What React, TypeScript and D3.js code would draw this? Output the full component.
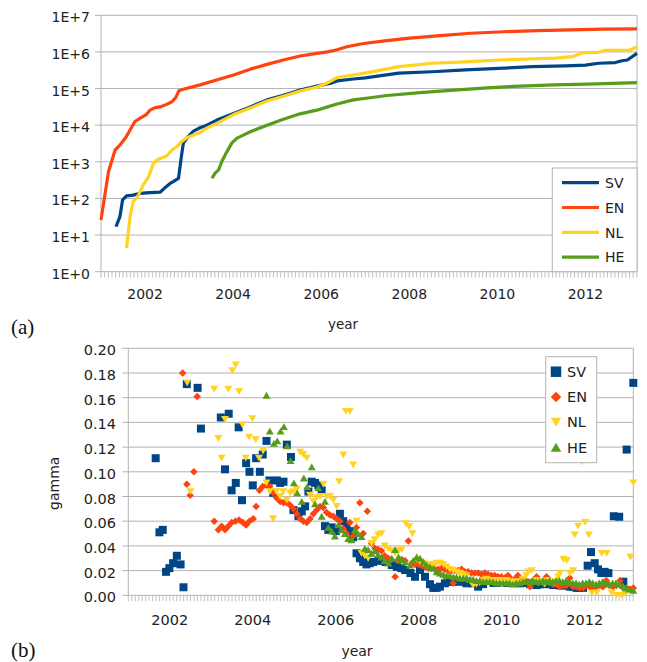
import React from "react";
import * as d3 from "d3";

// ---------- Panel (a): cumulative counts (log scale) ----------
const growthSV: [number, number][] = [
  [2001.34, 17], [2001.43, 32], [2001.49, 91], [2001.58, 117], [2001.73, 123], [2001.89, 138],
  [2002.11, 145], [2002.34, 148], [2002.45, 195], [2002.57, 257], [2002.64, 288], [2002.76, 355],
  [2002.83, 1550], [2002.87, 3240], [2002.98, 4900], [2003.1, 6900], [2003.25, 8500], [2003.4, 10000],
  [2003.63, 13800], [2004.01, 20900], [2004.39, 31600], [2004.77, 49000], [2005.14, 66000],
  [2005.52, 91000], [2005.9, 117000], [2006.2, 138000], [2006.36, 162000], [2006.73, 182000],
  [2007.0, 195000], [2007.76, 263000], [2008.52, 288000], [2009.27, 324000], [2010.03, 355000],
  [2010.79, 398000], [2011.55, 417000], [2012.0, 437000], [2012.3, 490000], [2012.68, 513000],
  [2012.83, 575000], [2012.95, 603000], [2013.17, 912000],
];
const growthEN: [number, number][] = [
  [2001.0, 26], [2001.17, 537], [2001.32, 2090], [2001.43, 2880], [2001.55, 4370], [2001.66, 7400],
  [2001.77, 12600], [2001.89, 15500], [2002.02, 19000], [2002.11, 25700], [2002.23, 30200],
  [2002.34, 31600], [2002.49, 37000], [2002.61, 43600], [2002.7, 57500], [2002.77, 87000],
  [2002.87, 95500], [2003.25, 126000], [2003.7, 182000], [2004.01, 234000], [2004.39, 339000],
  [2004.77, 457000], [2005.14, 603000], [2005.52, 776000], [2005.9, 912000], [2006.14, 1000000],
  [2006.36, 1150000], [2006.58, 1380000], [2006.96, 1700000], [2007.49, 2040000], [2007.95, 2340000],
  [2008.63, 2750000], [2009.39, 3240000], [2010.14, 3550000], [2010.9, 3800000], [2011.66, 3980000],
  [2012.41, 4170000], [2013.17, 4270000],
];
const growthNL: [number, number][] = [
  [2001.58, 4.4], [2001.66, 32], [2001.73, 81], [2001.85, 123], [2001.96, 234], [2002.08, 389],
  [2002.19, 912], [2002.3, 1175], [2002.49, 1445], [2002.61, 2090], [2002.72, 2570], [2002.83, 3550],
  [2002.95, 4570], [2003.1, 5370], [2003.25, 6300], [2003.4, 8300], [2003.63, 11200], [2004.01, 19500],
  [2004.39, 29500], [2004.77, 45500], [2005.14, 61500], [2005.52, 85000], [2005.9, 110000],
  [2006.13, 140000], [2006.36, 200000], [2006.73, 234000], [2007.0, 263000], [2007.76, 398000],
  [2008.52, 490000], [2009.27, 537000], [2010.03, 603000], [2010.79, 646000], [2011.32, 676000],
  [2011.7, 741000], [2011.93, 955000], [2012.3, 977000], [2012.45, 1100000], [2012.98, 1100000],
  [2013.17, 1380000],
];
const growthHE: [number, number][] = [
  [2003.52, 355], [2003.59, 490], [2003.67, 603], [2003.74, 1000], [2003.86, 1900], [2003.97, 3240],
  [2004.08, 4370], [2004.23, 5370], [2004.39, 6600], [2004.77, 10000], [2005.14, 14500],
  [2005.52, 20400], [2005.9, 25700], [2006.2, 33100], [2006.36, 38000], [2006.73, 49000],
  [2007.11, 56200], [2007.49, 64600], [2008.25, 77600], [2009.01, 91000], [2009.77, 105000],
  [2010.52, 117000], [2011.28, 126000], [2012.04, 132000], [2013.17, 145000],
];
const topTickValues = [1, 10, 100, 1e3, 1e4, 1e5, 1e6, 1e7];
const topTickLabels = ["1E+0", "1E+1", "1E+2", "1E+3", "1E+4", "1E+5", "1E+6", "1E+7"];

// ---------- Panel (b): gamma ----------
const gammaSV: [number, number][] = [
  [2001.66, 0.111], [2001.75, 0.051], [2001.83, 0.053], [2001.91, 0.019], [2001.99, 0.022],
  [2002.08, 0.026], [2002.17, 0.032], [2002.26, 0.025], [2002.33, 0.0065], [2002.41, 0.171],
  [2002.67, 0.168], [2002.75, 0.135], [2003.23, 0.144], [2003.33, 0.102], [2003.42, 0.147],
  [2003.49, 0.085], [2003.59, 0.091], [2003.66, 0.136], [2003.74, 0.077], [2003.84, 0.107],
  [2003.92, 0.1], [2004.0, 0.089], [2004.08, 0.111], [2004.17, 0.1], [2004.24, 0.114],
  [2004.33, 0.125], [2004.4, 0.093], [2004.49, 0.083], [2004.58, 0.093], [2004.66, 0.091],
  [2004.74, 0.092], [2004.82, 0.122], [2004.92, 0.112], [2004.98, 0.069], [2005.1, 0.064],
  [2005.18, 0.068], [2005.26, 0.072], [2005.34, 0.084], [2005.42, 0.092], [2005.5, 0.091],
  [2005.58, 0.089], [2005.66, 0.085], [2005.74, 0.056], [2005.82, 0.053], [2005.9, 0.055],
  [2006.0, 0.052], [2006.1, 0.066], [2006.18, 0.06], [2006.26, 0.057], [2006.34, 0.052],
  [2006.42, 0.047], [2006.5, 0.034], [2006.58, 0.03], [2006.66, 0.027], [2006.74, 0.025],
  [2006.82, 0.026], [2006.9, 0.027], [2007.02, 0.028], [2007.1, 0.028], [2007.2, 0.027],
  [2007.35, 0.0245], [2007.47, 0.023], [2007.58, 0.022], [2007.67, 0.0205], [2007.8, 0.018],
  [2007.91, 0.015], [2008.03, 0.0205], [2008.15, 0.015], [2008.27, 0.009], [2008.35, 0.006],
  [2008.43, 0.006], [2008.51, 0.007], [2008.63, 0.0097], [2008.75, 0.011], [2008.83, 0.011],
  [2008.95, 0.011], [2009.07, 0.011], [2009.15, 0.0097], [2009.3, 0.0097], [2009.43, 0.007],
  [2009.55, 0.009], [2009.72, 0.0124], [2009.8, 0.01], [2009.88, 0.01], [2009.96, 0.011],
  [2010.04, 0.011], [2010.12, 0.01], [2010.2, 0.01], [2010.28, 0.011], [2010.36, 0.01],
  [2010.44, 0.0097], [2010.52, 0.01], [2010.6, 0.01], [2010.68, 0.009], [2010.76, 0.009],
  [2010.84, 0.0083], [2010.92, 0.009], [2011.0, 0.009], [2011.08, 0.01], [2011.16, 0.009],
  [2011.24, 0.0083], [2011.32, 0.009], [2011.4, 0.008], [2011.48, 0.008], [2011.56, 0.008],
  [2011.64, 0.007], [2011.72, 0.007], [2011.8, 0.006], [2011.88, 0.006], [2011.96, 0.006],
  [2012.07, 0.024], [2012.15, 0.035], [2012.24, 0.026], [2012.32, 0.021], [2012.4, 0.018],
  [2012.48, 0.019], [2012.57, 0.018], [2012.7, 0.064], [2012.83, 0.0636], [2012.93, 0.011],
  [2013.01, 0.118], [2013.17, 0.172],
];
const gammaEN: [number, number][] = [
  [2002.31, 0.18], [2002.41, 0.09], [2002.49, 0.081], [2002.58, 0.1], [2002.66, 0.161],
  [2003.07, 0.06], [2003.17, 0.053], [2003.25, 0.056], [2003.33, 0.053], [2003.41, 0.056],
  [2003.49, 0.059], [2003.58, 0.06], [2003.67, 0.061], [2003.76, 0.059], [2003.84, 0.057],
  [2003.92, 0.06], [2004.01, 0.062], [2004.08, 0.072], [2004.16, 0.085], [2004.24, 0.088],
  [2004.33, 0.089], [2004.41, 0.088], [2004.49, 0.083], [2004.57, 0.079], [2004.66, 0.076],
  [2004.74, 0.075], [2004.82, 0.075], [2004.9, 0.073], [2004.98, 0.07], [2005.06, 0.066],
  [2005.14, 0.062], [2005.22, 0.06], [2005.3, 0.059], [2005.38, 0.062], [2005.46, 0.066],
  [2005.54, 0.069], [2005.62, 0.072], [2005.7, 0.071], [2005.78, 0.067], [2005.86, 0.065],
  [2005.94, 0.064], [2006.02, 0.062], [2006.1, 0.06], [2006.18, 0.054], [2006.26, 0.05],
  [2006.34, 0.059], [2006.42, 0.048], [2006.5, 0.055], [2006.58, 0.075], [2006.66, 0.05],
  [2006.76, 0.068], [2006.86, 0.042], [2006.94, 0.038], [2007.02, 0.037], [2007.1, 0.036],
  [2007.18, 0.032], [2007.26, 0.03], [2007.34, 0.029], [2007.43, 0.015], [2007.51, 0.028],
  [2007.59, 0.029], [2007.67, 0.028], [2007.75, 0.044], [2007.83, 0.026], [2007.91, 0.025],
  [2007.99, 0.025], [2008.07, 0.024], [2008.15, 0.023], [2008.23, 0.022], [2008.31, 0.022],
  [2008.39, 0.021], [2008.47, 0.021], [2008.55, 0.022], [2008.63, 0.021], [2008.71, 0.02],
  [2008.79, 0.02], [2008.83, 0.0097], [2008.87, 0.02], [2008.95, 0.02], [2009.03, 0.021],
  [2009.11, 0.019], [2009.19, 0.019], [2009.27, 0.018], [2009.35, 0.018], [2009.43, 0.018],
  [2009.51, 0.017], [2009.59, 0.018], [2009.67, 0.017], [2009.75, 0.016], [2009.83, 0.016],
  [2009.91, 0.015], [2009.99, 0.015], [2010.07, 0.014], [2010.15, 0.016], [2010.23, 0.013],
  [2010.31, 0.013], [2010.39, 0.016], [2010.47, 0.012], [2010.55, 0.012], [2010.63, 0.011],
  [2010.68, 0.007], [2010.76, 0.012], [2010.84, 0.015], [2010.92, 0.011], [2011.0, 0.01],
  [2011.08, 0.015], [2011.16, 0.01], [2011.24, 0.009], [2011.32, 0.009], [2011.4, 0.007],
  [2011.48, 0.008], [2011.56, 0.008], [2011.64, 0.014], [2011.72, 0.007], [2011.8, 0.007],
  [2011.88, 0.006], [2011.96, 0.006], [2012.04, 0.008], [2012.12, 0.007], [2012.2, 0.006],
  [2012.28, 0.007], [2012.36, 0.008], [2012.44, 0.007], [2012.52, 0.012], [2012.6, 0.008],
  [2012.68, 0.007], [2012.76, 0.008], [2012.85, 0.012], [2012.93, 0.006], [2013.01, 0.006],
  [2013.09, 0.005], [2013.17, 0.006],
];
const gammaNL: [number, number][] = [
  [2002.42, 0.172], [2002.5, 0.084], [2003.07, 0.167], [2003.17, 0.127], [2003.25, 0.111],
  [2003.33, 0.1425], [2003.41, 0.167], [2003.51, 0.182], [2003.59, 0.1865], [2003.67, 0.165],
  [2003.75, 0.138], [2003.83, 0.111], [2003.91, 0.128], [2003.99, 0.143], [2004.07, 0.126],
  [2004.15, 0.111], [2004.25, 0.117], [2004.33, 0.091], [2004.41, 0.084], [2004.49, 0.062],
  [2004.57, 0.084], [2004.66, 0.08], [2004.73, 0.084], [2004.82, 0.077], [2004.9, 0.083],
  [2004.98, 0.084], [2005.06, 0.086], [2005.14, 0.116], [2005.22, 0.114], [2005.3, 0.111],
  [2005.38, 0.081], [2005.46, 0.076], [2005.54, 0.079], [2005.62, 0.08], [2005.7, 0.09],
  [2005.78, 0.08], [2005.86, 0.08], [2005.94, 0.077], [2006.02, 0.072], [2006.08, 0.092],
  [2006.18, 0.1136], [2006.24, 0.149], [2006.34, 0.149], [2006.42, 0.1055], [2006.5, 0.06],
  [2006.62, 0.034], [2006.7, 0.032], [2006.78, 0.03], [2006.86, 0.042], [2006.94, 0.045],
  [2007.02, 0.049], [2007.1, 0.05], [2007.18, 0.04], [2007.26, 0.038], [2007.34, 0.036],
  [2007.43, 0.034], [2007.51, 0.036], [2007.59, 0.037], [2007.69, 0.058], [2007.77, 0.0555],
  [2007.85, 0.05], [2007.93, 0.028], [2008.03, 0.027], [2008.11, 0.026], [2008.19, 0.025],
  [2008.27, 0.025], [2008.35, 0.024], [2008.43, 0.026], [2008.51, 0.026], [2008.59, 0.025],
  [2008.67, 0.023], [2008.75, 0.021], [2008.83, 0.02], [2008.91, 0.019], [2008.99, 0.018],
  [2009.07, 0.017], [2009.15, 0.016], [2009.23, 0.012], [2009.31, 0.008], [2009.39, 0.009],
  [2009.47, 0.01], [2009.55, 0.012], [2009.63, 0.013], [2009.71, 0.012], [2009.79, 0.012],
  [2009.87, 0.011], [2009.95, 0.012], [2010.03, 0.011], [2010.11, 0.012], [2010.19, 0.011],
  [2010.27, 0.01], [2010.35, 0.011], [2010.43, 0.01], [2010.51, 0.013], [2010.59, 0.016],
  [2010.64, 0.019], [2010.72, 0.02], [2010.8, 0.012], [2010.88, 0.01], [2010.96, 0.011],
  [2011.04, 0.009], [2011.12, 0.012], [2011.2, 0.011], [2011.28, 0.01], [2011.36, 0.015],
  [2011.4, 0.018], [2011.49, 0.029], [2011.57, 0.028], [2011.64, 0.018], [2011.72, 0.02],
  [2011.76, 0.049], [2011.84, 0.056], [2011.93, 0.108], [2012.01, 0.059], [2012.1, 0.049],
  [2012.17, 0.002], [2012.29, 0.002], [2012.41, 0.034], [2012.53, 0.034], [2012.65, 0.002],
  [2012.77, 0.0], [2012.9, 0.0], [2012.98, 0.001], [2013.1, 0.031], [2013.17, 0.091],
];
const gammaHE: [number, number][] = [
  [2004.33, 0.162], [2004.41, 0.133], [2004.51, 0.123], [2004.59, 0.125], [2004.67, 0.133],
  [2004.75, 0.1365], [2004.83, 0.121], [2004.91, 0.109], [2004.99, 0.091], [2005.07, 0.083],
  [2005.18, 0.076], [2005.23, 0.095], [2005.31, 0.088], [2005.42, 0.104], [2005.5, 0.074],
  [2005.58, 0.087], [2005.66, 0.064], [2005.74, 0.076], [2005.82, 0.055], [2005.9, 0.052],
  [2005.98, 0.048], [2006.06, 0.057], [2006.14, 0.053], [2006.22, 0.05], [2006.3, 0.046],
  [2006.38, 0.045], [2006.46, 0.053], [2006.54, 0.05], [2006.62, 0.0475], [2006.7, 0.038],
  [2006.78, 0.037], [2006.86, 0.034], [2006.94, 0.036], [2007.02, 0.033], [2007.1, 0.031],
  [2007.18, 0.028], [2007.27, 0.026], [2007.35, 0.03], [2007.43, 0.037], [2007.51, 0.031],
  [2007.59, 0.029], [2007.67, 0.027], [2007.79, 0.0245], [2007.87, 0.028], [2007.95, 0.031],
  [2008.03, 0.03], [2008.11, 0.027], [2008.19, 0.0245], [2008.27, 0.023], [2008.35, 0.022],
  [2008.43, 0.019], [2008.51, 0.018], [2008.59, 0.017], [2008.67, 0.016], [2008.75, 0.016],
  [2008.83, 0.015], [2008.91, 0.015], [2008.99, 0.014], [2009.07, 0.014], [2009.15, 0.014],
  [2009.23, 0.013], [2009.31, 0.013], [2009.39, 0.012], [2009.47, 0.012], [2009.55, 0.011],
  [2009.63, 0.011], [2009.71, 0.011], [2009.79, 0.011], [2009.87, 0.01], [2009.95, 0.01],
  [2010.03, 0.01], [2010.11, 0.01], [2010.19, 0.01], [2010.27, 0.009], [2010.35, 0.01],
  [2010.43, 0.01], [2010.51, 0.011], [2010.59, 0.011], [2010.67, 0.011], [2010.75, 0.012],
  [2010.83, 0.011], [2010.91, 0.011], [2010.99, 0.012], [2011.07, 0.011], [2011.15, 0.012],
  [2011.23, 0.011], [2011.31, 0.012], [2011.39, 0.012], [2011.47, 0.011], [2011.55, 0.012],
  [2011.63, 0.011], [2011.71, 0.01], [2011.79, 0.01], [2011.87, 0.009], [2011.95, 0.01],
  [2012.03, 0.01], [2012.11, 0.011], [2012.19, 0.01], [2012.27, 0.009], [2012.35, 0.01],
  [2012.43, 0.011], [2012.51, 0.01], [2012.59, 0.009], [2012.67, 0.01], [2012.75, 0.01],
  [2012.83, 0.009], [2012.91, 0.008], [2012.99, 0.006], [2013.07, 0.005], [2013.17, 0.004],
];
const gammaTicks = [0, 0.02, 0.04, 0.06, 0.08, 0.1, 0.12, 0.14, 0.16, 0.18, 0.2];
const yearLabels = [2002, 2004, 2006, 2008, 2010, 2012];
const seriesNames = ["SV", "EN", "NL", "HE"];
const seriesColors = ["#004586", "#ff420e", "#ffd320", "#579d1c"];

const FONT = "DejaVu Sans, Verdana, sans-serif";
const GRID = "#b3b3b3";
const TXT = "#222";
const X0 = 2001.0;
const X1 = 2013.17;

function marker(kind: number, cx: number, cy: number, s: number): string {
  const h = s / 2;
  if (kind === 0) return `M${cx - h},${cy - h}H${cx + h}V${cy + h}H${cx - h}Z`;
  if (kind === 1) return `M${cx},${cy - h}L${cx + h},${cy}L${cx},${cy + h}L${cx - h},${cy}Z`;
  if (kind === 2) return `M${cx - h},${cy - h * 0.85}L${cx + h},${cy - h * 0.85}L${cx},${cy + h * 0.85}Z`;
  return `M${cx - h},${cy + h * 0.85}L${cx + h},${cy + h * 0.85}L${cx},${cy - h * 0.85}Z`;
}

export default function App() {
  // panel a scales
  const xA = d3.scaleLinear().domain([X0, X1]).range([101, 637]);
  const yA = d3.scaleLog().domain([1, 1e7]).range([271.7, 15.3]);
  // panel b scales
  const xB = d3.scaleLinear().domain([X0, X1]).range([128.3, 633.3]);
  const yB = d3.scaleLinear().domain([0, 0.2]).range([595.3, 348.3]);

  const months = d3.range(0, 147).map((m) => X0 + m / 12).filter((v) => v <= X1 + 1e-6);
  const growth = [growthSV, growthEN, growthNL, growthHE];
  const gammas = [gammaSV, gammaEN, gammaNL, gammaHE];
  const line = d3
    .line<[number, number]>()
    .x((d) => xA(d[0]))
    .y((d) => yA(d[1]));

  const [aL, aR] = xA.range();
  const [aB, aT] = yA.range();
  const [bL, bR] = xB.range();
  const [bB, bT] = yB.range();

  return (
    <svg
      width={647}
      height={662}
      style={{ position: "absolute", left: 0, top: 0, background: "#fff" }}
      fontFamily={FONT}
    >
      <rect x={0} y={0} width={647} height={662} fill="#fff" />
      {/* ---------- Panel (a) ---------- */}
      <g>
        {topTickValues.map((v) => (
          <line key={v} x1={aL - 6} x2={aR} y1={yA(v)} y2={yA(v)} stroke={GRID} strokeWidth={1} />
        ))}
        <line x1={aL} x2={aL} y1={aT} y2={aB} stroke={GRID} />
        <line x1={aR} x2={aR} y1={aT} y2={aB} stroke={GRID} />
        {months.map((m) => (
          <line key={m} x1={xA(m)} x2={xA(m)} y1={aB} y2={aB + 6} stroke={GRID} strokeWidth={0.8} />
        ))}
        {topTickValues.map((v, i) => (
          <text key={v} x={90} y={yA(v) + 7} textAnchor="end" fontSize={14} fill={TXT}>
            {topTickLabels[i]}
          </text>
        ))}
        {yearLabels.map((y) => (
          <text key={y} x={xA(y)} y={299} textAnchor="middle" fontSize={14} fill={TXT}>
            {y}
          </text>
        ))}
        {growth.map((g, i) => (
          <path
            key={i}
            d={line(g) || ""}
            fill="none"
            stroke={seriesColors[i]}
            strokeWidth={3.2}
            strokeLinejoin="round"
            strokeLinecap="butt"
          />
        ))}
        <rect x={552.3} y={168} width={aR - 552.3} height={aB - 168} fill="#fff" stroke={GRID} />
        {seriesNames.map((n, i) => {
          const cy = 182.7 + i * 24.8;
          return (
            <g key={n}>
              <line x1={562} x2={599} y1={cy} y2={cy} stroke={seriesColors[i]} strokeWidth={3.2} />
              <text x={605} y={cy + 5.2} fontSize={14} fill={TXT}>
                {n}
              </text>
            </g>
          );
        })}
        <text x={343} y={329} textAnchor="middle" fontSize={13.5} fill={TXT}>
          year
        </text>
        <text x={11} y={334} fontSize={21} fill="#111" fontFamily="Liberation Serif, serif">
          (a)
        </text>
      </g>

      {/* ---------- Panel (b) ---------- */}
      <g>
        {gammaTicks.map((v) => (
          <line key={v} x1={bL - 6} x2={bR} y1={yB(v)} y2={yB(v)} stroke={GRID} strokeWidth={1} />
        ))}
        <line x1={bL} x2={bL} y1={bT} y2={bB} stroke={GRID} />
        <line x1={bR} x2={bR} y1={bT} y2={bB} stroke={GRID} />
        {months.map((m) => (
          <line key={m} x1={xB(m)} x2={xB(m)} y1={bB} y2={bB + 6} stroke={GRID} strokeWidth={0.8} />
        ))}
        {gammaTicks.map((v) => (
          <text key={v} x={116} y={yB(v) + 7} textAnchor="end" fontSize={14.5} fill={TXT}>
            {v.toFixed(2)}
          </text>
        ))}
        {yearLabels.map((y) => (
          <text key={y} x={xB(y)} y={625} textAnchor="middle" fontSize={14.5} fill={TXT}>
            {y}
          </text>
        ))}
        {gammas.map((g, i) => (
          <g key={i} fill={seriesColors[i]}>
            {g.map((d, j) => (
              <path key={j} d={marker(i, xB(d[0]), yB(d[1]), i === 1 ? 7.5 : 8)} />
            ))}
          </g>
        ))}
        <rect x={545.7} y={356.7} width={51} height={106} fill="#fff" stroke={GRID} />
        {seriesNames.map((n, i) => {
          const cy = 371.7 + i * 25.2;
          return (
            <g key={n}>
              <path d={marker(i, 556, cy, 10.5)} fill={seriesColors[i]} />
              <text x={567} y={cy + 5.2} fontSize={14.5} fill={TXT}>
                {n}
              </text>
            </g>
          );
        })}
        <text
          transform={`translate(58.5,483.3) rotate(-90)`}
          textAnchor="middle"
          fontSize={14}
          fill={TXT}
        >
          gamma
        </text>
        <text x={357} y={656} textAnchor="middle" fontSize={14} fill={TXT}>
          year
        </text>
        <text x={11} y={657} fontSize={21} fill="#111" fontFamily="Liberation Serif, serif">
          (b)
        </text>
      </g>
    </svg>
  );
}
